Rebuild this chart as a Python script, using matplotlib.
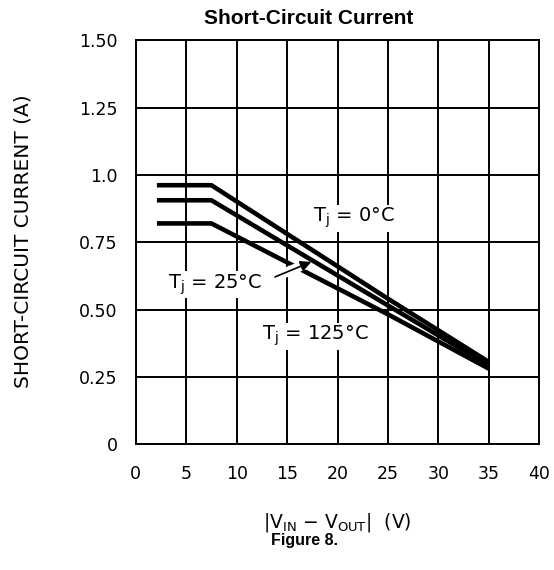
import matplotlib
matplotlib.use('Agg')
import matplotlib.pyplot as plt

plt.rcParams['font.family'] = ['DejaVu Sans']
plt.rcParams['mathtext.default'] = 'regular'

# |Vin - Vout| (V) breakpoints, same for all three curves
v_diff = [2.1, 7.5, 25.0, 35.0]
# short-circuit current (A)
i_0c = [0.962, 0.962, 0.540, 0.305]
i_25c = [0.906, 0.906, 0.515, 0.292]
i_125c = [0.820, 0.820, 0.482, 0.280]

x_ticks = [0, 5, 10, 15, 20, 25, 30, 35, 40]
y_ticks = [0, 0.25, 0.50, 0.75, 1.0, 1.25, 1.50]
y_tick_labels = ['0', '0.25', '0.50', '0.75', '1.0', '1.25', '1.50']

# arrow from the 25C label to its curve
arrow_tail = (13.8, 0.621)
arrow_head = (17.4, 0.677)

fig = plt.figure(figsize=(5.54, 5.70), dpi=100)
ax = fig.add_axes([0.245, 0.221, 0.7285, 0.708])

ax.set_xlim(0, 40)
ax.set_ylim(0, 1.5)
ax.set_xticks(x_ticks)
ax.set_yticks(y_ticks)
ax.set_yticklabels(y_tick_labels)
ax.tick_params(length=0, labelsize=12.5)
ax.tick_params(axis='y', pad=13)
ax.tick_params(axis='x', pad=15)
ax.grid(True, color='black', lw=1.4)
ax.set_axisbelow(True)
for s in ax.spines.values():
	s.set_linewidth(1.4)

lw = 3.3
ax.plot(v_diff, i_125c, color='black', lw=lw, solid_capstyle='butt', zorder=2)
# white gap in the 125C line where the arrow crosses it
ax.plot([arrow_tail[0], arrow_head[0]], [arrow_tail[1], arrow_head[1]],
		color='white', lw=7, solid_capstyle='butt', zorder=2.5)
ax.plot(v_diff, i_25c, color='black', lw=lw, solid_capstyle='butt', zorder=4)
ax.plot(v_diff, i_0c, color='black', lw=lw, solid_capstyle='butt', zorder=4)

ax.annotate('', xy=arrow_head, xytext=arrow_tail,
			arrowprops=dict(arrowstyle='-|>', color='black', lw=1.2,
							mutation_scale=16, shrinkA=0, shrinkB=0),
			zorder=3)

bbox = dict(facecolor='white', edgecolor='none', pad=1)
ax.text(17.6, 0.825, r'T$_j$ = 0°C', fontsize=14, ha='left', va='baseline', bbox=bbox, zorder=5)
ax.text(3.2, 0.578, r'T$_j$ = 25°C', fontsize=14, ha='left', va='baseline', bbox=bbox, zorder=5)
ax.text(12.5, 0.386, r'T$_j$ = 125°C', fontsize=14, ha='left', va='baseline', bbox=bbox, zorder=5)

fig.text(0.042, 0.577, 'SHORT-CIRCUIT CURRENT (A)', rotation=90, fontsize=14.5,
		 ha='center', va='center')
fig.text(0.608, 0.084, r'|V$_{IN}$ $-$ V$_{OUT}$|  (V)', fontsize=13.5, ha='center', va='center')
fig.text(0.557, 0.967, 'Short-Circuit Current', fontsize=15, fontweight='bold',
		 family='Liberation Sans', ha='center', va='center')
fig.text(0.549, 0.051, 'Figure 8.', fontsize=11.5, fontweight='bold',
		 family='Liberation Sans', ha='center', va='center')

fig.savefig('out.png', dpi=100)
